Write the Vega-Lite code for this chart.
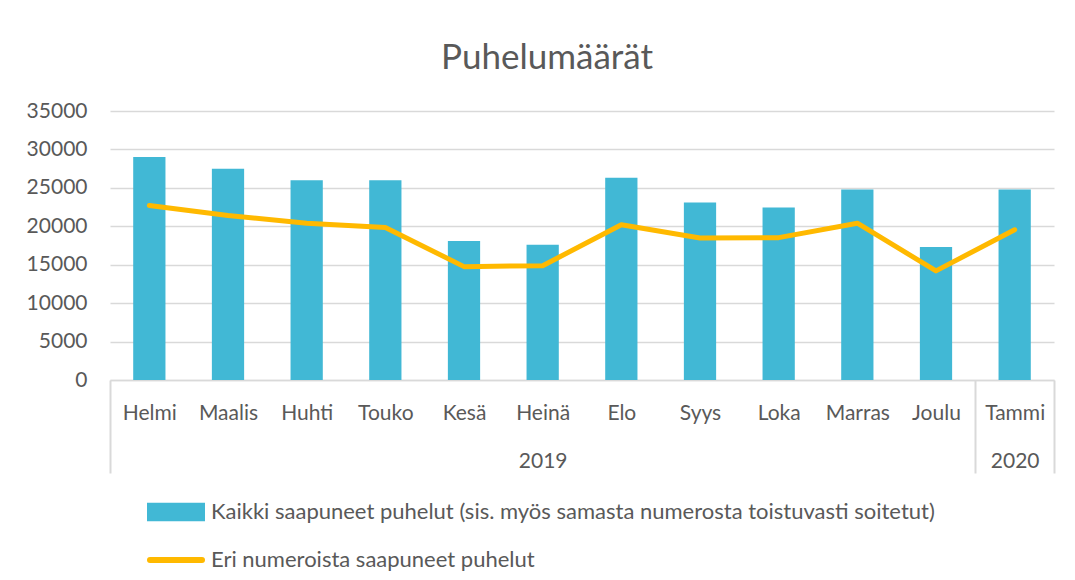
{
  "$schema": "https://vega.github.io/schema/vega-lite/v6.json",
  "width": 944,
  "height": 269,
  "autosize": {"type": "none"},
  "padding": {"left": 110, "top": 111, "right": 21, "bottom": 200},
  "background": "white",
  "title": {
    "text": "Puhelumäärät",
    "font": "Lato",
    "fontSize": 35,
    "fontWeight": "normal",
    "color": "#595959",
    "anchor": "middle",
    "dx": -35,
    "offset": 24
  },
  "data": {
    "values": [
      {"month": "Helmi", "year": "2019", "kaikki": 29000, "eri": 22700},
      {"month": "Maalis", "year": "2019", "kaikki": 27500, "eri": 21400},
      {"month": "Huhti", "year": "2019", "kaikki": 26000, "eri": 20400},
      {"month": "Touko", "year": "2019", "kaikki": 26000, "eri": 19850},
      {"month": "Kesä", "year": "2019", "kaikki": 18100, "eri": 14750},
      {"month": "Heinä", "year": "2019", "kaikki": 17600, "eri": 14870},
      {"month": "Elo", "year": "2019", "kaikki": 26300, "eri": 20200},
      {"month": "Syys", "year": "2019", "kaikki": 23100, "eri": 18480},
      {"month": "Loka", "year": "2019", "kaikki": 22450, "eri": 18520},
      {"month": "Marras", "year": "2019", "kaikki": 24800, "eri": 20400},
      {"month": "Joulu", "year": "2019", "kaikki": 17300, "eri": 14200},
      {"month": "Tammi", "year": "2020", "kaikki": 24800, "eri": 19550}
    ]
  },
  "encoding": {
    "x": {
      "field": "month",
      "type": "nominal",
      "sort": null,
      "scale": {"paddingInner": 0, "paddingOuter": 0},
      "axis": {
        "title": null,
        "labelAngle": 0,
        "labelFont": "Lato",
        "labelFontSize": 21,
        "labelColor": "#595959",
        "labelLineHeight": 48.5,
        "labelBaseline": "top",
        "labelExpr": "datum.value === 'Heinä' ? ['Heinä', '2019'] : datum.value === 'Tammi' ? ['Tammi', '2020'] : datum.value",
        "domainColor": "#D9D9D9",
        "domainWidth": 1.5,
        "tickBand": "extent",
        "tickSize": 93,
        "tickWidth": 2,
        "tickColor": {
          "condition": {"test": "indexof(['Helmi','Maalis','Huhti','Touko','Kesä','Heinä','Elo','Syys','Loka','Marras'], datum.value) < 0", "value": "#D9D9D9"},
          "value": "transparent"
        },
        "labelPadding": -71
      }
    }
  },
  "layer": [
    {
      "mark": {"type": "bar", "width": {"band": 0.41}},
      "encoding": {
        "y": {
          "field": "kaikki",
          "type": "quantitative",
          "scale": {"domain": [0, 35000], "nice": false},
          "axis": {
            "title": null,
            "values": [0, 5000, 10000, 15000, 20000, 25000, 30000, 35000],
            "tickCount": 8,
            "labelOverlap": false,
            "format": "d",
            "labelFont": "Lato",
            "labelFontSize": 21,
            "labelColor": "#595959",
            "labelPadding": 23,
            "domain": false,
            "ticks": false,
            "gridColor": "#D9D9D9",
            "gridWidth": 1.5
          }
        },
        "color": {
          "datum": "Kaikki saapuneet puhelut (sis. myös samasta numerosta toistuvasti soitetut)",
          "type": "nominal",
          "scale": {
            "domain": [
              "Kaikki saapuneet puhelut (sis. myös samasta numerosta toistuvasti soitetut)",
              "Eri numeroista saapuneet puhelut"
            ],
            "range": ["#41B8D5", "#FFB900"]
          },
          "legend": {
            "title": null,
            "orient": "none",
            "legendX": 37,
            "legendY": 372,
            "direction": "vertical",
            "padding": 0,
            "symbolSize": 2704,
            "rowPadding": -13,
            "labelOffset": 6,
            "labelFont": "Lato",
            "labelFontSize": 22,
            "labelColor": "#595959",
            "labelLimit": 1000,
            "encode": {
              "symbols": {
                "update": {
                  "shape": {"signal": "datum.value === 'Eri numeroista saapuneet puhelut' ? 'M-1,0L1,0' : 'M-1,-0.245H1V0.245H-1Z'"},
                  "fill": {"signal": "datum.value === 'Eri numeroista saapuneet puhelut' ? 'transparent' : '#41B8D5'"},
                  "stroke": {"signal": "datum.value === 'Eri numeroista saapuneet puhelut' ? '#FFB900' : 'transparent'"},
                  "strokeWidth": {"value": 6},
                  "strokeCap": {"value": "round"},
                  "opacity": {"value": 1}
                }
              }
            }
          }
        }
      }
    },
    {
      "mark": {"type": "line", "strokeWidth": 5, "strokeJoin": "round", "strokeCap": "round"},
      "encoding": {
        "y": {
          "field": "eri",
          "type": "quantitative",
          "axis": {
            "title": null,
            "values": [0, 5000, 10000, 15000, 20000, 25000, 30000, 35000],
            "tickCount": 8,
            "labelOverlap": false,
            "format": "d",
            "labelFont": "Lato",
            "labelFontSize": 21,
            "labelColor": "#595959",
            "labelPadding": 23,
            "domain": false,
            "ticks": false,
            "gridColor": "#D9D9D9",
            "gridWidth": 1.5
          }
        },
        "color": {"datum": "Eri numeroista saapuneet puhelut", "type": "nominal"}
      }
    }
  ],
  "config": {
    "view": {"stroke": null}
  }
}
